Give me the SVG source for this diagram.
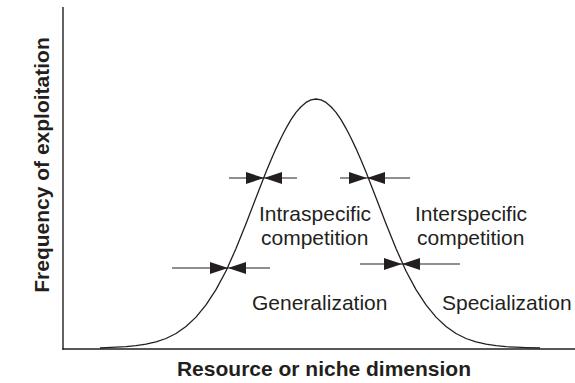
<svg xmlns="http://www.w3.org/2000/svg" width="575" height="383" viewBox="0 0 575 383">
<style>
.ax{stroke:#231f20;stroke-width:1.4;fill:none}
.cv{stroke:#231f20;stroke-width:1.3;fill:none;stroke-linejoin:round}
.ar{stroke:#231f20;stroke-width:1.2}
.hd{fill:#231f20}
.lb{font-family:"Liberation Sans",Arial,sans-serif;font-size:21px;fill:#231f20}
.tt{font-family:"Liberation Sans",Arial,sans-serif;font-size:21px;font-weight:bold;fill:#231f20}
</style>
<defs>
<path id="tipR" d="M-18,-6 L0,0 L-18,6 Z"/>
<path id="tipL" d="M18,-6 L0,0 L18,6 Z"/>
</defs>
<rect width="575" height="383" fill="#ffffff"/>
<g id="axes">
<line class="ax" x1="63" y1="7" x2="63" y2="349.7"/>
<line class="ax" x1="62.3" y1="349" x2="575" y2="349"/>
</g>
<g id="curve">
<polyline class="cv" points="100,348 106,347.6 116,347.2 126,346.7 136,345.7 146,344.2 156,341.9 166,338.5 176,333.5 186,326.5 196,317.1 206,304.9 216,289.6 226,271 236,248.5 246,223.7 256,197.8 266,172.1 271,160 276,148.6 281,138 286,128.3 291,119.7 296,112.4 301,106.7 306,102.4 311,99.9 316,99 321,99.9 326,102.4 331,106.7 336,112.4 341,119.7 346,128.3 351,138 356,148.6 361,160 366,172.1 376,197.8 386,223.7 396,248.5 406,271 416,289.6 426,304.9 436,317.1 446,326.5 456,333.5 466,338.5 476,341.9 486,344.2 496,345.7 506,346.7 516,347.2 526,347.6 540,348"/>
</g>
<g id="connectors">
<g id="arrow-intra">
<line class="ar" x1="229" y1="178" x2="297" y2="178"/>
<use href="#tipR" class="hd" x="264" y="178"/>
<use href="#tipL" class="hd" x="264" y="178"/>
</g>
<g id="arrow-inter">
<line class="ar" x1="340" y1="178" x2="410" y2="178"/>
<use href="#tipR" class="hd" x="367" y="178"/>
<use href="#tipL" class="hd" x="367" y="178"/>
</g>
<g id="arrow-general">
<line class="ar" x1="172" y1="268" x2="270" y2="268"/>
<use href="#tipR" class="hd" x="228" y="268"/>
<use href="#tipL" class="hd" x="228" y="268"/>
</g>
<g id="arrow-special">
<line class="ar" x1="360" y1="264" x2="460" y2="264"/>
<use href="#tipR" class="hd" x="402" y="264"/>
<use href="#tipL" class="hd" x="402" y="264"/>
</g>
</g>
<g id="label-intra">
<text class="lb" x="259" y="221">Intraspecific</text>
<text class="lb" x="261" y="245">competition</text>
</g>
<g id="label-inter">
<text class="lb" x="415" y="221">Interspecific</text>
<text class="lb" x="417" y="245">competition</text>
</g>
<g id="label-general">
<text class="lb" x="252" y="310">Generalization</text>
</g>
<g id="label-special">
<text class="lb" x="442" y="310">Specialization</text>
</g>
<g id="axis-x-title">
<text class="tt" x="324" y="376" text-anchor="middle">Resource or niche dimension</text>
</g>
<g id="axis-y-title">
<text class="tt" text-anchor="middle" transform="translate(49,165) rotate(-90)">Frequency of exploitation</text>
</g>
</svg>
